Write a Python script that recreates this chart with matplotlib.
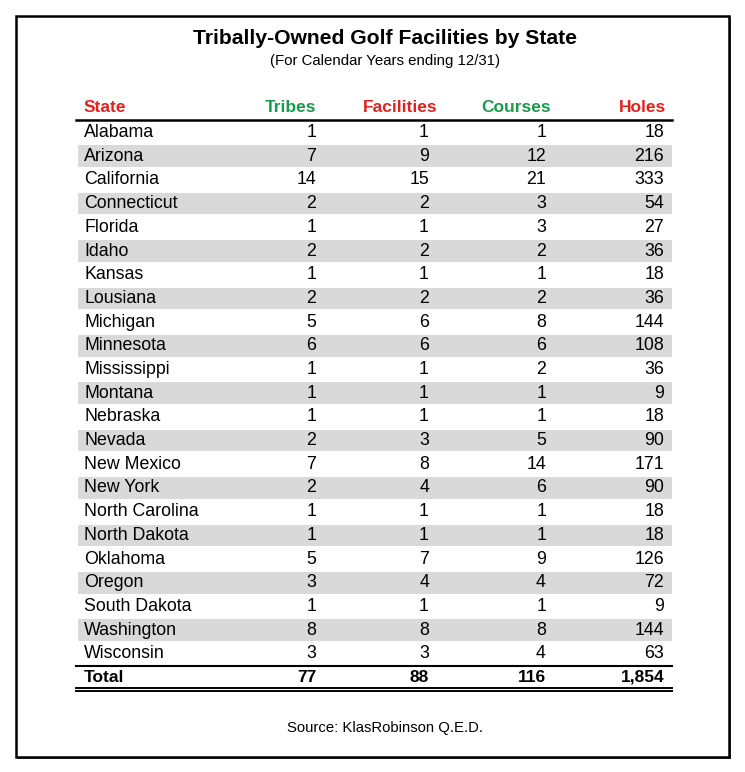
import matplotlib.pyplot as plt
from matplotlib.patches import Rectangle

states = ["Alabama", "Arizona", "California", "Connecticut", "Florida", "Idaho",
          "Kansas", "Lousiana", "Michigan", "Minnesota", "Mississippi", "Montana",
          "Nebraska", "Nevada", "New Mexico", "New York", "North Carolina",
          "North Dakota", "Oklahoma", "Oregon", "South Dakota", "Washington",
          "Wisconsin"]
tribes = [1, 7, 14, 2, 1, 2, 1, 2, 5, 6, 1, 1, 1, 2, 7, 2, 1, 1, 5, 3, 1, 8, 3]
facilities = [1, 9, 15, 2, 1, 2, 1, 2, 6, 6, 1, 1, 1, 3, 8, 4, 1, 1, 7, 4, 1, 8, 3]
courses = [1, 12, 21, 3, 3, 2, 1, 2, 8, 6, 2, 1, 1, 5, 14, 6, 1, 1, 9, 4, 1, 8, 4]
holes = [18, 216, 333, 54, 27, 36, 18, 36, 144, 108, 36, 9, 18, 90, 171, 90, 18,
         18, 126, 72, 9, 144, 63]
headers = ["State", "Tribes", "Facilities", "Courses", "Holes"]

RED = "#e0231f"
GREEN = "#1b9a4b"
GRAY = "#d9d9d9"
plt.rcParams['font.family'] = ['Liberation Sans', 'DejaVu Sans']

fig = plt.figure(figsize=(7.45, 7.72), dpi=100)
ax = fig.add_axes([0, 0, 1, 1])
ax.set_xlim(0, 745)
ax.set_ylim(772, 0)
ax.axis('off')

# frame with a little shadow
ax.add_patch(Rectangle((18, 18), 713, 741, facecolor="#555555", edgecolor="none"))
ax.add_patch(Rectangle((16, 16), 713, 741, facecolor="white", edgecolor="black", lw=1.8))

ax.text(385, 38, "Tribally-Owned Golf Facilities by State", ha='center', va='center',
        fontsize=15.2, fontweight='bold')
ax.text(385, 61, "(For Calendar Years ending 12/31)", ha='center', va='center', fontsize=10.8)

x_left, x_right = 76, 672
col_x = [84, 316, 437, 551, 666]
num_x = [None, 316, 429, 546, 664]
head_col = [RED, GREEN, RED, GREEN, RED]
for i, h in enumerate(headers):
    ax.text(col_x[i], 108, h, ha='left' if i == 0 else 'right', va='center',
            fontsize=12.5, fontweight='bold', color=head_col[i])
ax.plot([x_left, x_right], [119.5, 119.5], color='black', lw=1.8)

y0, dy = 132.5, 23.7
cols = [tribes, facilities, courses, holes]
for r, s in enumerate(states):
    y = y0 + r * dy
    if r % 2 == 1:
        ax.add_patch(Rectangle((x_left + 2, y - dy / 2 + 1), x_right - x_left - 2, dy - 2,
                               facecolor=GRAY, edgecolor='none'))
    ax.text(84, y, s, ha='left', va='center', fontsize=12.8)
    for c, vals in enumerate(cols):
        ax.text(num_x[c + 1], y, str(vals[r]), ha='right', va='center', fontsize=12.8)

y_last = y0 + (len(states) - 1) * dy
ax.plot([x_left, x_right], [y_last + 12, y_last + 12], color='black', lw=1.5)
yt = y_last + 23.5
totals = [sum(tribes), sum(facilities), sum(courses), sum(holes)]
ax.text(84, yt, "Total", ha='left', va='center', fontsize=12.5, fontweight='bold')
for c, t in enumerate(totals):
    ax.text(num_x[c + 1], yt, f"{t:,}", ha='right', va='center', fontsize=12.5,
            fontweight='bold')
ax.plot([x_left, x_right], [yt + 10.5, yt + 10.5], color='black', lw=1.4)
ax.plot([x_left, x_right], [yt + 13.5, yt + 13.5], color='black', lw=1.4)

ax.text(385, 728, "Source: KlasRobinson Q.E.D.", ha='center', va='center', fontsize=10.7)

fig.savefig("out.png", dpi=100)
